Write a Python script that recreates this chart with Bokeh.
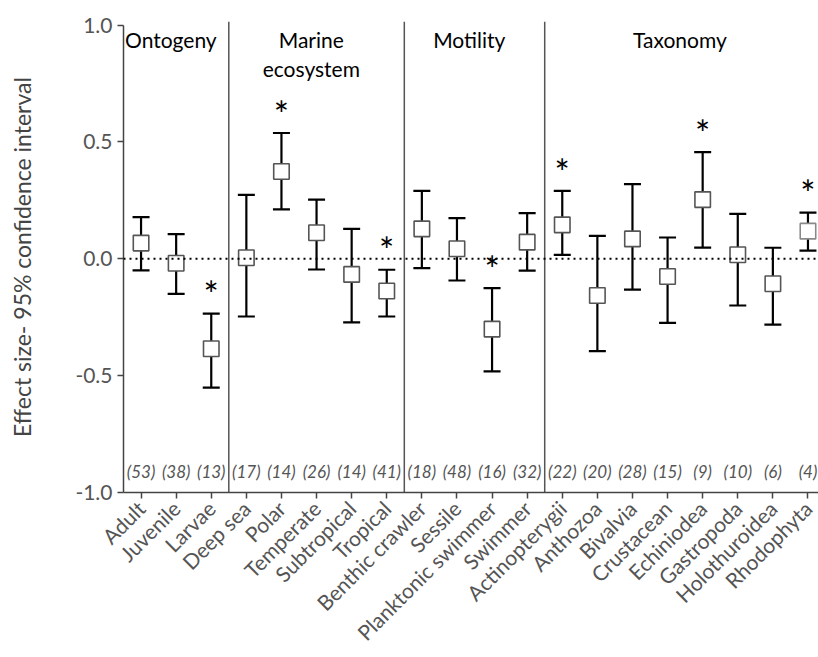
from bokeh.plotting import figure
from bokeh.models import (ColumnDataSource, Whisker, TeeHead, Span, FixedTicker,
                          PrintfTickFormatter, Range1d)
from bokeh.core.properties import value
from bokeh.embed import file_html
from bokeh.resources import INLINE

categories = ["Adult", "Juvenile", "Larvae", "Deep sea", "Polar", "Temperate",
              "Subtropical", "Tropical", "Benthic crawler", "Sessile",
              "Planktonic swimmer", "Swimmer", "Actinopterygii", "Anthozoa",
              "Bivalvia", "Crustacean", "Echiniodea", "Gastropoda",
              "Holothuroidea", "Rhodophyta"]
effect = [0.067, -0.019, -0.385, 0.004, 0.373, 0.111, -0.067, -0.138, 0.128, 0.043,
          -0.301, 0.071, 0.145, -0.157, 0.085, -0.076, 0.253, 0.017, -0.107, 0.118]
upper = [0.178, 0.105, -0.235, 0.273, 0.538, 0.253, 0.128, -0.047, 0.290, 0.174,
         -0.126, 0.195, 0.290, 0.098, 0.319, 0.091, 0.456, 0.192, 0.047, 0.197]
lower = [-0.050, -0.150, -0.551, -0.247, 0.211, -0.046, -0.272, -0.247, -0.040, -0.093,
         -0.482, -0.051, 0.017, -0.395, -0.132, -0.274, 0.048, -0.200, -0.282, 0.035]
n_studies = [53, 38, 13, 17, 14, 26, 14, 41, 18, 48, 16, 32, 22, 20, 28, 15, 9, 10, 6, 4]
significant = [False, False, True, False, True, False, False, True, False, False,
               True, False, True, False, False, False, True, False, False, True]
groups = ["Ontogeny", "Marine\necosystem", "Motility", "Taxonomy"]
group_sizes = [3, 5, 4, 8]
y_ticks = [-1.0, -0.5, 0.0, 0.5, 1.0]

FONT = "Lato"
xs = list(range(len(categories)))

p = figure(width=818, height=657, output_backend="svg", toolbar_location=None,
           x_range=Range1d(-0.5, 19.3), y_range=Range1d(-1.0, 1.015),
           min_border_left=123, min_border_right=0, min_border_top=21,
           min_border_bottom=165)
p.outline_line_color = None
p.xgrid.visible = False
p.ygrid.visible = False
p.background_fill_color = "white"
p.border_fill_color = "white"

# zero line
p.add_layout(Span(location=0, dimension="width", line_color="black",
                  line_width=2, line_dash="2 4"))

# group separators
bounds = []
acc = 0
for s in group_sizes[:-1]:
    acc += s
    bounds.append(acc - 0.5)
p.segment(x0=bounds, x1=bounds, y0=[-1.0] * len(bounds), y1=[1.015] * len(bounds),
          line_color="#555555", line_width=1.5)

# group labels
centers = []
acc = 0
for s in group_sizes:
    centers.append(acc + (s - 1) / 2 - 0.15)
    acc += s
p.text(x=centers, y=[0.99] * len(groups), text=groups, text_align="center",
       text_baseline="top", text_font=value(FONT), text_font_size="21px",
       text_color="black", text_line_height=1.15)

src = ColumnDataSource(dict(x=xs, effect=effect, upper=upper, lower=lower,
                            n=["(%d)" % v for v in n_studies]))
w = Whisker(base="x", upper="upper", lower="lower", source=src, dimension="height",
            line_color="black", line_width=2.2,
            upper_head=TeeHead(size=17, line_color="black", line_width=2.2),
            lower_head=TeeHead(size=17, line_color="black", line_width=2.2))
p.add_layout(w)

box_colors = ["#555555"] * (len(categories) - 1) + ["#8a8a8a"]
src.data["bc"] = box_colors
p.scatter(x="x", y="effect", source=src, marker="square", size=15.5,
          fill_color="white", line_color="bc", line_width=1.6)

# significance stars
sx = [x for x, s in zip(xs, significant) if s]
sy = [u + 0.1 for u, s in zip(upper, significant) if s]
p.text(x=sx, y=sy, text=["*"] * len(sx), text_align="center",
       text_baseline="middle", text_font=value(FONT), text_font_size="36px",
       text_color="black", y_offset=4)

# sample sizes
p.text(x="x", y=-0.912, text="n", source=src, text_align="center",
       text_baseline="middle", text_font=value(FONT), text_font_size="17px",
       text_font_style="italic", text_color="#555555")

# axes
p.yaxis.ticker = FixedTicker(ticks=y_ticks)
p.yaxis.formatter = PrintfTickFormatter(format="%.1f")
p.yaxis.bounds = (-1.0, 1.0)
p.yaxis.minor_tick_line_color = None
p.yaxis.major_tick_in = 0
p.yaxis.major_tick_out = 6
p.yaxis.axis_line_color = "#444444"
p.yaxis.axis_line_width = 1.5
p.yaxis.major_tick_line_color = "#444444"
p.yaxis.major_tick_line_width = 1.5
p.yaxis.major_label_text_font = FONT
p.yaxis.major_label_text_font_size = "21px"
p.yaxis.major_label_text_color = "#555555"
p.yaxis.axis_label = "Effect size- 95% confidence interval"
p.yaxis.axis_label_text_font = FONT
p.yaxis.axis_label_text_font_size = "23px"
p.yaxis.axis_label_text_font_style = "normal"
p.yaxis.axis_label_text_color = "#444444"
p.yaxis.axis_label_standoff = 36

p.xaxis.ticker = FixedTicker(ticks=xs)
p.xaxis.major_label_overrides = {i: c for i, c in zip(xs, categories)}
p.xaxis.major_label_orientation = 0.785398
p.xaxis.minor_tick_line_color = None
p.xaxis.major_tick_in = 0
p.xaxis.major_tick_out = 6
p.xaxis.axis_line_color = "#444444"
p.xaxis.axis_line_width = 1.5
p.xaxis.major_tick_line_color = "#444444"
p.xaxis.major_tick_line_width = 1.5
p.xaxis.major_label_text_font = FONT
p.xaxis.major_label_text_font_size = "21px"
p.xaxis.major_label_text_color = "#555555"
p.xaxis.major_label_standoff = 6

open("out.html", "w").write(file_html(p, INLINE))
